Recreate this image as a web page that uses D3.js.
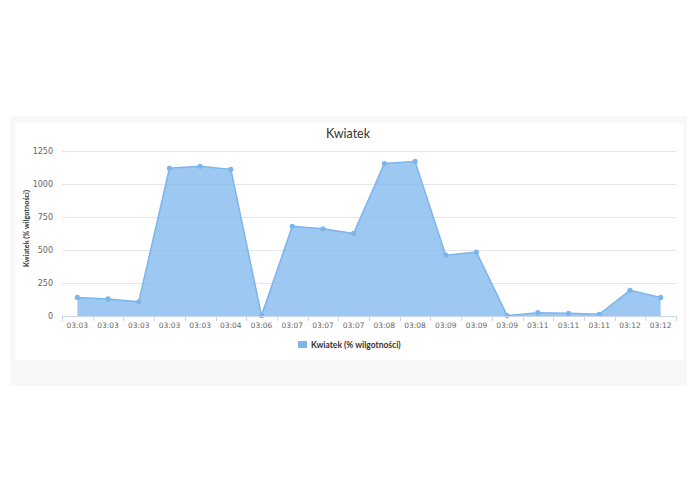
<!DOCTYPE html>
<html>
<head>
<meta charset="utf-8">
<script src="https://cdn.jsdelivr.net/npm/d3@7.9.0/dist/d3.min.js"></script>
<style>
  body { margin: 0; background: #fff; font-family: "Lucida Grande", "DejaVu Sans", "Open Sans", sans-serif; }
  svg { display: block; }
</style>
</head>
<body>
<svg id="chart" width="695" height="494"></svg>
<script>
// Chart data
const categories = ["03:03", "03:03", "03:03", "03:03", "03:03", "03:04", "03:06", "03:07", "03:07", "03:07",
  "03:08", "03:08", "03:09", "03:09", "03:09", "03:11", "03:11", "03:11", "03:12", "03:12"];
const humidity = [141, 129, 108, 1119, 1134, 1111, 3, 680, 661, 626, 1155, 1171, 461, 484, 3, 25, 20, 13, 194, 141];
const yTicks = [0, 250, 500, 750, 1000, 1250];

const seriesName = "Kwiatek (% wilgotności)";
const lineColor = "#7cb5ec";

const svg = d3.select("#chart");

// outer gray panel and white card
svg.append("rect").attr("x", 10).attr("y", 116).attr("width", 677).attr("height", 270).attr("fill", "#f8f8f8");
svg.append("rect").attr("x", 15).attr("y", 123).attr("width", 668).attr("height", 237).attr("fill", "#fff");

const margin = { left: 62, right: 676, top: 151, bottom: 316 };

const x = d3.scaleBand()
  .domain(d3.range(categories.length))
  .range([margin.left, margin.right]);

const y = d3.scaleLinear()
  .domain([0, 1250])
  .range([margin.bottom, margin.top]);

// grid lines
svg.append("g")
  .selectAll("line")
  .data(yTicks.filter(d => d > 0))
  .join("line")
  .attr("x1", margin.left)
  .attr("x2", margin.right)
  .attr("y1", d => y(d) + 0.5)
  .attr("y2", d => y(d) + 0.5)
  .attr("stroke", "#e6e6e6");

// y axis labels
svg.append("g")
  .selectAll("text")
  .data(yTicks)
  .join("text")
  .attr("x", 53)
  .attr("y", d => y(d) + 3)
  .attr("text-anchor", "end")
  .attr("font-size", 8)
  .attr("fill", "#666")
  .text(d => d);

// y axis title
svg.append("text")
  .attr("transform", `translate(29,${(margin.top + margin.bottom) / 2 - 5}) rotate(-90)`)
  .attr("text-anchor", "middle")
  .attr("font-family", "Lato, sans-serif")
  .attr("font-size", 7.3)
  .attr("font-weight", "bold")
  .attr("fill", "#333")
  .text(seriesName);

// area + line
const cx = i => x(i) + x.bandwidth() / 2;

const area = d3.area()
  .x((d, i) => cx(i))
  .y0(y(0))
  .y1(d => y(d));

const line = d3.line()
  .x((d, i) => cx(i))
  .y(d => y(d));

svg.append("path")
  .datum(humidity)
  .attr("d", area)
  .attr("fill", lineColor)
  .attr("fill-opacity", 0.75);

svg.append("path")
  .datum(humidity)
  .attr("d", line)
  .attr("fill", "none")
  .attr("stroke", lineColor)
  .attr("stroke-width", 1.5);

svg.append("g")
  .selectAll("circle")
  .data(humidity)
  .join("circle")
  .attr("cx", (d, i) => cx(i))
  .attr("cy", d => y(d))
  .attr("r", 2.6)
  .attr("fill", lineColor);

// x axis
const xAxis = svg.append("g");
xAxis.append("line")
  .attr("x1", margin.left).attr("x2", margin.right)
  .attr("y1", margin.bottom + 0.5).attr("y2", margin.bottom + 0.5)
  .attr("stroke", "#ccd6eb");

xAxis.selectAll("line.tick")
  .data(d3.range(categories.length + 1))
  .join("line")
  .attr("class", "tick")
  .attr("x1", i => Math.round(margin.left + i * x.bandwidth()) + 0.5)
  .attr("x2", i => Math.round(margin.left + i * x.bandwidth()) + 0.5)
  .attr("y1", margin.bottom)
  .attr("y2", margin.bottom + 5)
  .attr("stroke", "#ccd6eb");

xAxis.selectAll("text")
  .data(categories)
  .join("text")
  .attr("x", (d, i) => cx(i))
  .attr("y", 328)
  .attr("text-anchor", "middle")
  .attr("font-size", 7.5)
  .attr("fill", "#666")
  .text(d => d);

// title
svg.append("text")
  .attr("x", 348)
  .attr("y", 138)
  .attr("text-anchor", "middle")
  .attr("font-family", "Lato, sans-serif")
  .attr("font-size", 12.5)
  .attr("fill", "#333")
  .text("Kwiatek");

// legend
svg.append("rect")
  .attr("x", 298).attr("y", 341)
  .attr("width", 9).attr("height", 7)
  .attr("fill", lineColor);

svg.append("text")
  .attr("x", 311)
  .attr("y", 347.5)
  .attr("font-family", "Lato, sans-serif")
  .attr("font-size", 8.5)
  .attr("font-weight", "bold")
  .attr("fill", "#333")
  .text(seriesName);
</script>
</body>
</html>
